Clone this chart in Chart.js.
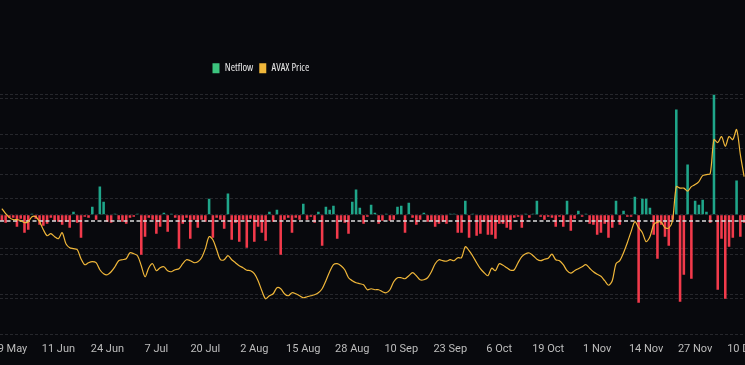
<!DOCTYPE html>
<html>
<head>
<meta charset="utf-8">
<script src="https://cdn.jsdelivr.net/npm/chart.js@4.4.1/dist/chart.umd.min.js"></script>
<style>
  html, body { margin: 0; padding: 0; background: #08090d; overflow: hidden; }
  body { width: 745px; height: 365px; position: relative; }
  #wrap { position: absolute; left: -60px; top: 0; width: 866px; height: 365px; }
</style>
</head>
<body>
<div id="wrap"><canvas id="flowChart"></canvas></div>
<script>
// daily, 27 May .. 10 Dec
const startDate = new Date(2023, 4, 27)
const dayCount = 198
const months = ['Jan','Feb','Mar','Apr','May','Jun','Jul','Aug','Sep','Oct','Nov','Dec']
const tickLabels = ['29 May','11 Jun','24 Jun','7 Jul','20 Jul','2 Aug','15 Aug','28 Aug','10 Sep','23 Sep','6 Oct','19 Oct','1 Nov','14 Nov','27 Nov','10 Dec']

// netflow, thousand AVAX
const netflow = [
  -150,-200,-75,-75,-300,-100,-450,-375,25,-100,
  -250,-275,-225,-75,-150,-175,-250,-175,-325,75,
  -200,-575,-50,-75,200,-125,700,325,-175,-200,
  25,-125,-175,-225,-75,-50,25,-1000,-550,-75,
  -125,-475,-300,50,-425,25,-75,-850,-225,-75,
  -600,-125,-325,-125,-175,400,-575,-75,-125,-350,
  525,-625,-200,-675,-125,-825,-100,-675,-300,-450,
  -650,75,-175,125,-1000,-125,-75,-450,-75,-125,
  275,-125,-50,-200,75,-775,200,125,225,-600,
  -150,-200,-475,325,625,175,-225,-50,250,50,
  -225,-150,25,-150,-125,200,225,-450,300,-75,
  -250,-125,50,-175,-150,-300,-225,-175,-225,25,
  25,-450,-450,350,-575,25,-525,-475,-175,-500,
  -500,-600,-225,-225,-325,-375,-75,-50,-325,25,
  -75,25,350,-50,-125,-50,-75,-300,-50,-300,
  350,-400,-100,100,-50,25,-225,-250,-500,-450,
  -225,-575,-325,350,-250,100,-50,-50,450,-2200,
  400,400,175,-500,-1100,-250,-550,-775,-125,2625,
  -2175,-1500,1250,-1600,350,250,375,75,-200,3000,
  -1875,-600,-2100,-800,-575,850,-550,-200
]

// AVAX price, USD
const price = [
  19.0,18.5,18.1,17.9,17.9,17.8,17.6,17.7,18.2,18.2,
  17.7,16.9,16.3,16.5,16.2,16.0,16.6,15.5,15.1,15.0,
  14.9,14.0,13.4,13.6,13.7,13.6,12.9,12.5,12.4,12.7,
  13.2,13.8,13.9,14.0,14.6,14.5,14.3,13.3,12.2,13.1,
  13.5,12.8,13.1,13.2,12.8,12.7,12.9,13.0,13.5,13.9,
  13.8,13.6,13.7,14.1,15.0,16.2,15.9,14.9,13.9,13.9,
  14.3,13.9,13.6,13.3,13.1,12.85,12.8,12.5,11.8,10.8,
  10.0,10.3,10.5,11.1,11.0,10.5,10.3,10.6,10.5,10.3,
  10.1,10.2,10.3,10.4,10.6,11.0,11.8,12.7,13.4,13.5,
  13.3,12.9,12.1,11.8,11.6,11.5,11.4,10.9,11.0,10.9,
  10.9,10.7,10.6,10.9,11.7,12.1,12.1,12.0,12.3,12.6,
  12.3,11.9,11.9,12.1,12.7,13.5,13.9,13.8,13.75,13.9,
  13.8,14.1,14.1,15.2,14.8,14.25,13.6,13.0,12.6,12.3,
  13.05,12.8,13.5,13.35,13.1,12.85,12.9,13.6,14.2,14.5,
  14.57,14.3,13.95,13.8,13.95,14.05,14.45,13.9,13.8,13.4,
  12.8,12.55,12.8,13.0,13.2,13.4,13.05,12.7,12.45,12.25,
  11.8,11.35,11.8,13.5,13.8,14.6,15.6,16.7,17.7,17.1,
  16.6,15.7,16.2,17.4,17.65,17.65,17.1,17.05,17.8,21.2,
  21.05,21.05,20.75,21.2,21.4,21.7,22.3,22.4,22.5,25.9,
  25.6,26.2,25.23,26.2,25.9,26.9,24.4,22.2
]

const flowTicks = [-3000,-2000,-1000,0,1000,2000,3000]
const priceTicks = [10,15,20,25,30]
const avgFlow = -160

const days = []
for (let i = 0; i < dayCount; i++) {
  const d = new Date(startDate.getTime() + i * 86400000)
  days.push(d.getDate() + ' ' + months[d.getMonth()])
}

const GREEN = '#1fa68a', RED = '#f23a4b', GOLD = '#f0b73a'
const GRID = '#26272c'

// legend sits left of centre in the original
const legendNudge = {
  id: 'legendNudge',
  afterLayout(chart) {
    const lg = chart.legend
    if (!lg || !lg.lineWidths) return
    const p = lg.options.labels.padding
    const start = (lg.left + p + lg.right - lg.lineWidths[0]) / 2
    const dx = 272.5 - start
    lg.left += dx; lg.right += dx
    lg.top -= 11; lg.bottom -= 11
  }
}

const avgLine = {
  id: 'avgLine',
  afterDatasetDraw(chart, args) {
    if (args.index !== 0) return
    const {ctx, chartArea} = chart
    const y = chart.scales.yFlow.getPixelForValue(avgFlow)
    ctx.save()
    ctx.strokeStyle = '#dcdcdc'
    ctx.lineWidth = 1.4
    ctx.setLineDash([4, 2.5])
    ctx.beginPath()
    ctx.moveTo(chartArea.left, y)
    ctx.lineTo(chartArea.right, y)
    ctx.stroke()
    ctx.restore()
  }
}

new Chart(document.getElementById('flowChart'), {
  type: 'bar',
  data: {
    labels: days,
    datasets: [{
      type: 'bar',
      label: 'Netflow',
      data: netflow,
      yAxisID: 'yFlow',
      backgroundColor: ctx => ctx.raw > 0 ? GREEN : RED,
      categoryPercentage: 1,
      barPercentage: 0.68,
      order: 2
    }, {
      type: 'line',
      label: 'AVAX Price',
      data: price,
      yAxisID: 'yPrice',
      borderColor: GOLD,
      backgroundColor: GOLD,
      borderWidth: 1.2,
      pointRadius: 0,
      tension: 0.3,
      order: 1
    }]
  },
  options: {
    responsive: true,
    maintainAspectRatio: false,
    animation: false,
    layout: { padding: { left: 60, right: 60, top: 68, bottom: 1 } },
    plugins: {
      tooltip: { enabled: false },
      legend: {
        labels: {
          color: '#e8e8e8',
          boxWidth: 7,
          boxHeight: 10,
          padding: 6,
          font: { family: '"Open Sans", sans-serif', weight: 'condensed', size: 10.5 },
          generateLabels(chart) {
            return chart.data.datasets.map((ds, i) => ({
              text: ds.label,
              fillStyle: i === 0 ? '#3cc47e' : GOLD,
              strokeStyle: 'transparent',
              lineWidth: 0,
              fontColor: '#e8e8e8',
              datasetIndex: i
            }))
          }
        }
      }
    },
    scales: {
      x: {
        offset: true,
        grid: { display: false, drawTicks: false },
        border: { display: false },
        ticks: {
          autoSkip: false,
          maxRotation: 0,
          padding: 8,
          color: '#bdbdbd',
          font: { family: 'Roboto, sans-serif', size: 11 },
          callback(v) {
            const l = this.getLabelForValue(v)
            return tickLabels.includes(l) ? l : ''
          }
        }
      },
      yFlow: {
        position: 'left',
        min: -3000,
        max: 3000,
        afterBuildTicks: axis => { axis.ticks = flowTicks.map(v => ({ value: v })) },
        ticks: { display: false },
        grid: { color: GRID, drawTicks: false },
        border: { display: false, dash: [3, 2] }
      },
      yPrice: {
        position: 'right',
        min: 6.4,
        max: 30.4,
        afterBuildTicks: axis => { axis.ticks = priceTicks.map(v => ({ value: v })) },
        ticks: { display: false },
        grid: { color: GRID, drawTicks: false },
        border: { display: false, dash: [3, 2] }
      }
    }
  },
  plugins: [legendNudge, avgLine]
});
</script>
</body>
</html>
